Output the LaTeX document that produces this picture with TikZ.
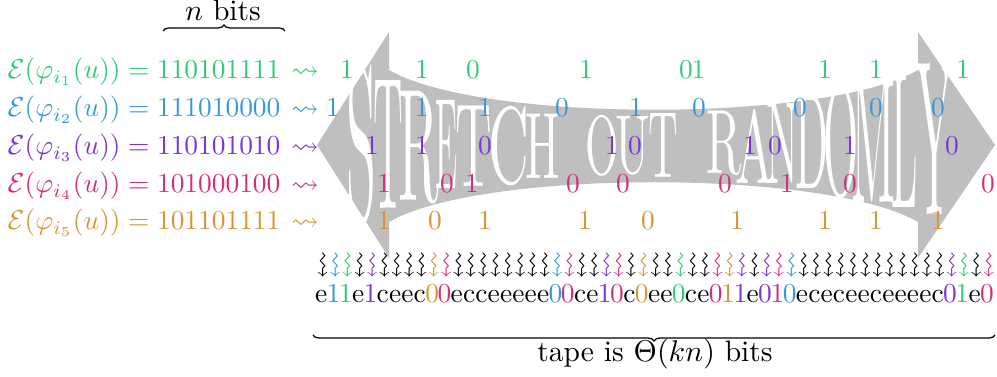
\documentclass[tikz,border=0pt]{standalone}
\usepackage{amssymb}
\usepackage{graphicx}
\usetikzlibrary{decorations.pathreplacing}
\definecolor{cG}{RGB}{46,204,113}
\definecolor{cB}{RGB}{52,152,219}
\definecolor{cP}{RGB}{125,50,215}
\definecolor{cK}{RGB}{214,45,120}
\definecolor{cO}{RGB}{214,148,52}
\definecolor{arrowgray}{RGB}{191,191,191}
\begin{document}
\begin{tikzpicture}[x=0.365pt,y=-0.365pt,
  lbl/.style={inner sep=0pt, anchor=base, font=\fontsize{10.8}{13}\selectfont},
  eqn/.style={inner sep=0pt, anchor=base east},
  sqarrow/.style={inner sep=0pt, anchor=base},
  bit/.style={inner sep=0pt, anchor=base},
  letter/.style={inner sep=0pt, text=white, font=\rmfamily},
  tapech/.style={inner sep=0pt, anchor=base},
  tapearr/.style={inner sep=0pt, rotate=-90},
  bracestyle/.style={decorate, decoration={brace, amplitude=2.2pt}, line width=0.45pt}
]
\useasboundingbox (0,0) rectangle (997,377);
% big double arrow
\fill[arrowgray] (317,145) -- (389,32) -- (389,70) .. controls (480,123) and (827,123) .. (918,70)
  -- (918,32) -- (995,145) -- (918,258) -- (918,222) .. controls (827,169) and (480,169) .. (389,222)
  -- (389,258) -- cycle;
% warped white text
\foreach \cx/\cy/\xs/\ys/\L [count=\i] in {
  361.5/145.5/1.96/8.07/S, 388.5/145/1.5/6.9/T, 418.5/147.5/2.02/5.84/R, 447/144.5/1.19/4.73/E,
  473.5/146/1.84/4.34/T, 508.5/146/2.06/4.0/C, 542.5/146/1.67/3.45/H,
  602/145.5/1.56/3.06/O, 632.5/145.5/1.67/3.06/U, 663.5/146/1.5/3.45/T,
  724/143/1.74/3.34/R, 754.5/146/1.87/3.78/A, 782.5/143.5/1.56/4.28/N, 812/142.5/1.58/4.95/D,
  841/141.5/1.65/5.73/O, 873/141.5/1.75/6.51/M, 905/141/1.55/7.12/L, 934.5/139.5/1.87/8.07/Y}
  \node[letter] (L\i) at (\cx,\cy) {\scalebox{\xs}[\ys]{\L}};
% equations
\node[eqn, text=cG] (eq1) at (281,79) {$\mathcal{E}(\varphi_{i_1}(u)) = 110101111$};
\node[eqn, text=cB] (eq2) at (281,117) {$\mathcal{E}(\varphi_{i_2}(u)) = 111010000$};
\node[eqn, text=cP] (eq3) at (281,155) {$\mathcal{E}(\varphi_{i_3}(u)) = 110101010$};
\node[eqn, text=cK] (eq4) at (281,193) {$\mathcal{E}(\varphi_{i_4}(u)) = 101000100$};
\node[eqn, text=cO] (eq5) at (281,230) {$\mathcal{E}(\varphi_{i_5}(u)) = 101101111$};
\node[sqarrow, text=cG] (sq1) at (305,79) {$\rightsquigarrow$};
\node[sqarrow, text=cB] (sq2) at (305,117) {$\rightsquigarrow$};
\node[sqarrow, text=cP] (sq3) at (305,155) {$\rightsquigarrow$};
\node[sqarrow, text=cK] (sq4) at (305,193) {$\rightsquigarrow$};
\node[sqarrow, text=cO] (sq5) at (305,230) {$\rightsquigarrow$};
% n bits brace
\coordinate (nbA) at (163,31);
\coordinate (nbB) at (285,31);
\draw[bracestyle] (nbA) -- (nbB);
\node[lbl] (nbits) at (223,21) {$n$ bits};
% scattered bits
\foreach \x/\b [count=\i] in {347/1,422/1,473/0,586/1,686/0,698.5/1,825/1,876/1,963/1}
  \node[bit, text=cG] (ga\i) at (\x,79) {\b};
\foreach \x/\b [count=\i] in {333/1,422/1,485/1,562/0,636/1,699/0,800/0,876/0,938/0}
  \node[bit, text=cB] (gb\i) at (\x,117) {\b};
\foreach \x/\b [count=\i] in {372/1,422/1,485/0,612/1,635/0,750/1,775/0,850/1,952/0}
  \node[bit, text=cP] (gc\i) at (\x,155) {\b};
\foreach \x/\b [count=\i] in {384/1,447/0,472/1,573/0,623/0,725/0,787/1,850/0,988/0}
  \node[bit, text=cK] (gd\i) at (\x,193) {\b};
\foreach \x/\b [count=\i] in {384/1,435/0,485/1,585/1,648/0,737/1,825/1,876/1,938/1}
  \node[bit, text=cO] (ge\i) at (\x,230) {\b};
% tape
\foreach \c/\col [count=\k] in {
  e/black,1/cB,1/cG,e/black,1/cP,c/black,e/black,e/black,c/black,0/cO,
  0/cK,e/black,c/black,c/black,e/black,e/black,e/black,e/black,e/black,0/cB,
  0/cK,c/black,e/black,1/cP,0/cK,c/black,0/cO,e/black,e/black,0/cG,
  c/black,e/black,0/cK,1/cO,1/cP,e/black,0/cP,1/cK,0/cB,e/black,
  c/black,e/black,c/black,e/black,e/black,c/black,e/black,e/black,e/black,e/black,
  c/black,0/cP,1/cG,e/black,0/cK}
{
  \node[tapech, text=\col] (t\k) at ({315+(\k-0.5)*12.33},303) {\c};
  \node[tapearr, text=\col] (a\k) at ({315+(\k-0.5)*12.33},265) {$\rightsquigarrow$};
}
% tape brace
\coordinate (tbA) at (995,335);
\coordinate (tbB) at (313,335);
\draw[bracestyle] (tbA) -- (tbB);
\node[lbl] (tapelbl) at (655,362) {tape is $\Theta(kn)$ bits};
\end{tikzpicture}
\end{document}
